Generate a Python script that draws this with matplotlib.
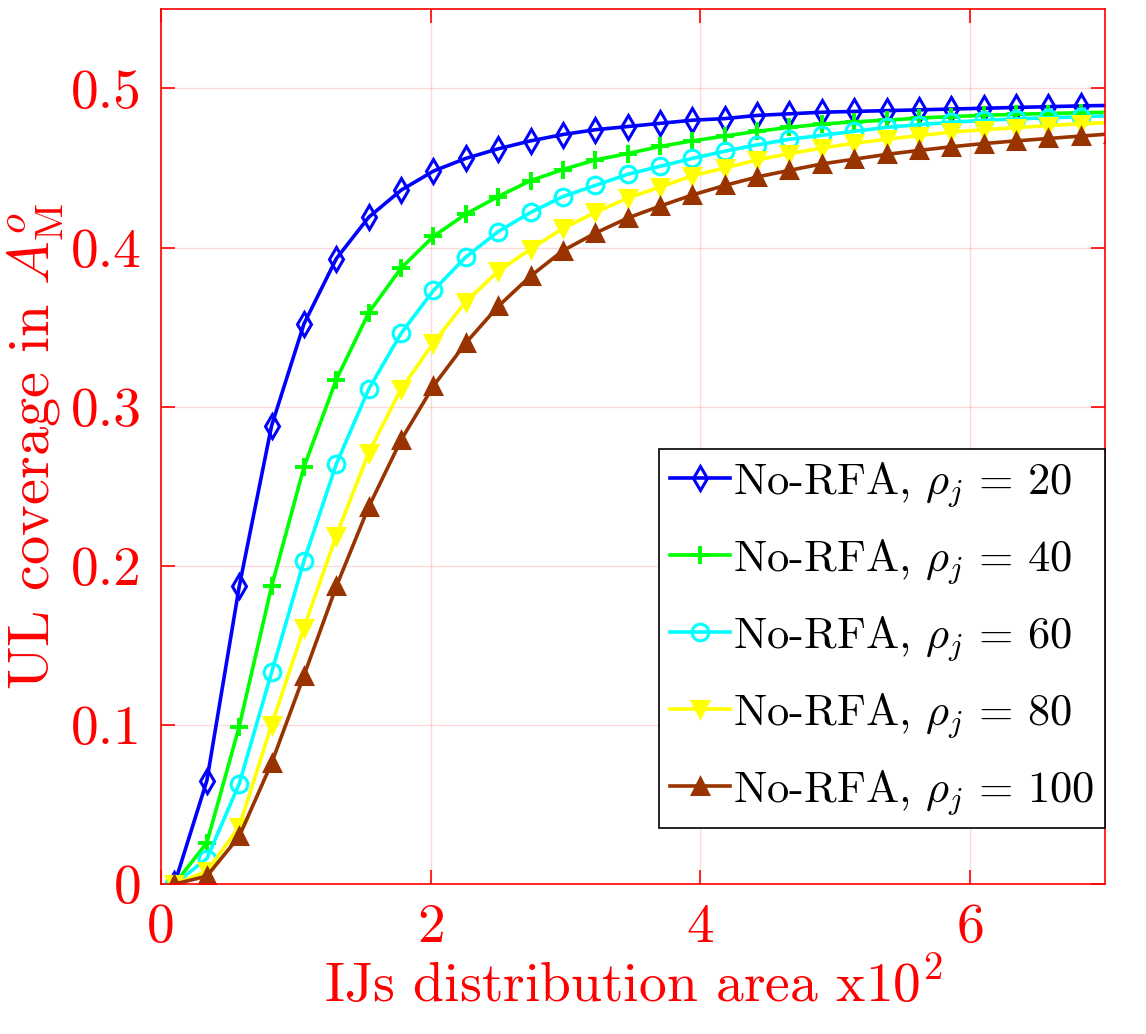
import matplotlib
matplotlib.use("Agg")
from matplotlib import pyplot as plt
from matplotlib.ticker import FuncFormatter

plt.rcParams["font.family"] = "serif"
plt.rcParams["font.serif"] = ["cmr10"]
plt.rcParams["mathtext.fontset"] = "cm"
plt.rcParams["axes.formatter.use_mathtext"] = True

# IJs distribution area (x10^2)
area = [0.10, 0.34, 0.58, 0.82, 1.06, 1.30, 1.54, 1.78, 2.02, 2.26,
        2.50, 2.74, 2.98, 3.22, 3.46, 3.70, 3.94, 4.18, 4.42, 4.66,
        4.90, 5.14, 5.38, 5.62, 5.86, 6.10, 6.34, 6.58, 6.82, 7.06]

cov_rho20 = [0.0, 0.065, 0.187, 0.288, 0.352, 0.393, 0.419, 0.436, 0.448, 0.456,
             0.462, 0.467, 0.471, 0.474, 0.476, 0.478, 0.480, 0.481, 0.483, 0.484,
             0.485, 0.4855, 0.486, 0.4865, 0.487, 0.4875, 0.488, 0.4885, 0.489, 0.4893]
cov_rho40 = [0.0, 0.026, 0.099, 0.187, 0.262, 0.317, 0.359, 0.387, 0.407, 0.421,
             0.432, 0.442, 0.449, 0.455, 0.459, 0.4635, 0.467, 0.470, 0.473, 0.4755,
             0.4775, 0.479, 0.480, 0.4813, 0.4823, 0.483, 0.4837, 0.4842, 0.4847, 0.485]
cov_rho60 = [0.0, 0.016, 0.063, 0.133, 0.203, 0.264, 0.311, 0.346, 0.373, 0.394,
             0.410, 0.422, 0.432, 0.439, 0.446, 0.451, 0.456, 0.4605, 0.4645, 0.468,
             0.4705, 0.473, 0.4755, 0.4772, 0.4787, 0.4799, 0.4808, 0.4815, 0.4822, 0.4828]
cov_rho80 = [0.0, 0.008, 0.036, 0.100, 0.161, 0.219, 0.271, 0.311, 0.340, 0.366,
             0.385, 0.399, 0.412, 0.422, 0.431, 0.438, 0.445, 0.450, 0.455, 0.459,
             0.4625, 0.4655, 0.468, 0.4703, 0.4725, 0.474, 0.4753, 0.4766, 0.4777, 0.4787]
cov_rho100 = [0.0, 0.005, 0.030, 0.076, 0.131, 0.187, 0.237, 0.279, 0.313, 0.340,
              0.363, 0.382, 0.398, 0.409, 0.4185, 0.426, 0.433, 0.439, 0.4443, 0.4485,
              0.4525, 0.4555, 0.4585, 0.461, 0.4633, 0.4653, 0.467, 0.4685, 0.470, 0.4715]

rho = [20, 40, 60, 80, 100]
curves = [cov_rho20, cov_rho40, cov_rho60, cov_rho80, cov_rho100]
colors = ["#0000ff", "#00ff00", "#00ffff", "#ffff00", "#993300"]
markers = ["d", "+", "o", "v", "^"]
filled = [False, False, False, True, True]

fig = plt.figure(figsize=(11.46, 10.34), dpi=100)
ax = fig.add_axes([0.1405, 0.145, 0.8237, 0.8465])

for r, y, c, m, f in zip(rho, curves, colors, markers, filled):
    ax.plot(area, y, color=c, lw=2.6, marker=m, ms=12 if m != "+" else 13,
            mfc=c if f else "none", mec=c, mew=2.2 if m != "+" else 2.8,
            label=r"No-RFA, $\rho_j\,=\,%d$" % r)

ax.set_xlim(0, 7)
ax.set_ylim(0, 0.55)
ax.set_xticks([0, 2, 4, 6])
ax.set_yticks([0, 0.1, 0.2, 0.3, 0.4, 0.5])
ax.yaxis.set_major_formatter(FuncFormatter(lambda v, p: "%g" % v))
ax.xaxis.set_major_formatter(FuncFormatter(lambda v, p: "%g" % v))

ax.grid(True, color="red", alpha=0.15, lw=1)
for s in ax.spines.values():
    s.set_color("red")
    s.set_linewidth(1.2)
ax.tick_params(which="both", direction="in", length=10, width=1.2, color="red",
               labelcolor="red", labelsize=40, top=True, right=True, pad=14)

ax.set_xlabel(r"IJs distribution area x10$^2$", color="red", fontsize=40, labelpad=4)
ax.set_ylabel(r"UL coverage in $A_{\mathrm{M}}^{o}$", color="red", fontsize=42, labelpad=3)

leg = ax.legend(loc="lower right", bbox_to_anchor=(1.0, 0.064), borderaxespad=0,
                fontsize=32, handlelength=1.35, handletextpad=0.06, labelspacing=0.64,
                borderpad=0.25, fancybox=False, framealpha=1, edgecolor="black")
leg.get_frame().set_linewidth(1.2)

fig.savefig("out.png", dpi=100)
